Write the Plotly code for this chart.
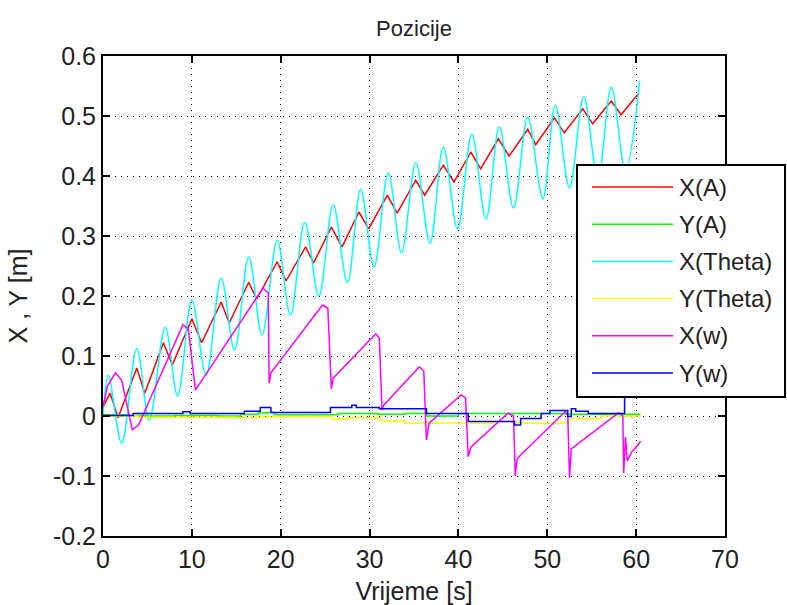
import plotly.graph_objects as go

# ---------------- data ----------------
series_names = ["X(A)", "Y(A)", "X(Theta)", "Y(Theta)", "X(w)", "Y(w)"]
series_colors = ["#ff0000", "#00ff00", "#00ffff", "#ffff00", "#ff00ff", "#0000ff"]

t_xa = [0, 0.8, 1.7, 3.8, 4.7, 6.8, 7.8, 10.0, 11.1, 13.3, 14.2, 16.4, 17.3, 19.6,
        20.6, 22.8, 23.7, 25.7, 26.9, 28.8, 29.9, 32.0, 33.1, 35.2, 36.2, 38.3,
        39.5, 41.4, 42.5, 44.5, 45.7, 47.8, 48.7, 50.8, 51.9, 54.0, 55.1, 57.2,
        58.3, 60.3]
x_a = [0.015, 0.038, -0.003, 0.08, 0.038, 0.122, 0.085, 0.162, 0.122, 0.19, 0.155,
       0.223, 0.195, 0.257, 0.225, 0.282, 0.255, 0.315, 0.282, 0.34, 0.312, 0.368,
       0.338, 0.393, 0.368, 0.418, 0.39, 0.44, 0.412, 0.462, 0.433, 0.478, 0.452,
       0.497, 0.472, 0.512, 0.487, 0.525, 0.502, 0.538]

# step series: each value holds until the next time
t_ya = [0, 3, 5, 8, 10, 13, 15.5, 17.5, 18.5, 19.3, 26.5, 31, 34, 36.4, 40, 46, 52, 60.5]
y_a = [0.002, 0.001, 0.0, 0.001, 0.001, 0.0, 0.003, 0.005, 0.006, 0.002, 0.004,
       0.003, 0.004, 0.0, 0.004, 0.004, 0.003, 0.003]

t_xth = [0, 0.6, 2.1, 3.8, 5.2, 7.0, 8.4, 10.0, 11.6, 13.3, 14.8, 16.4, 17.9, 19.6,
         21.1, 22.7, 24.3, 25.9, 27.5, 29.0, 30.5, 32.1, 33.6, 35.2, 36.8, 38.3,
         39.9, 41.5, 43.1, 44.6, 46.2, 47.8, 49.5, 50.9, 52.5, 54.1, 55.7, 57.2,
         58.8, 60.4]
x_theta = [0.0, 0.068, -0.045, 0.113, -0.007, 0.148, 0.033, 0.193, 0.068, 0.23, 0.11,
           0.265, 0.135, 0.293, 0.168, 0.323, 0.2, 0.352, 0.222, 0.378, 0.248, 0.405,
           0.272, 0.422, 0.288, 0.448, 0.312, 0.47, 0.328, 0.482, 0.347, 0.498, 0.362,
           0.518, 0.38, 0.532, 0.395, 0.548, 0.41, 0.558]

t_yth = [0, 4, 10, 15, 17.2, 19.3, 25.8, 27.5, 31.2, 34.0, 44.4, 46.5, 51.7,
         52.4, 56.0, 60.5]
y_theta = [0.0, -0.002, -0.002, -0.003, -0.002, -0.001, -0.005, -0.003,
           -0.008, -0.012, -0.0095, -0.012, -0.011, -0.004, 0.0, 0.0]

t_xw = [0, 0.5, 1.4, 2.1, 3.3, 4.0, 9.0, 9.6, 10.4, 18.0, 18.6, 18.7, 18.9, 24.7,
        25.3, 25.7, 25.9, 30.7, 31.1, 31.4, 31.6, 35.6, 36.1, 36.4, 36.7, 40.3, 40.8,
        41.1, 41.4, 45.6, 46.2, 46.4, 46.6, 47.0, 52.0, 52.3, 52.5, 52.7, 58.0, 58.5,
        58.6, 58.8, 59.0, 59.5, 60.0, 60.5]
x_w = [0.015, 0.05, 0.072, 0.06, -0.023, -0.015, 0.152, 0.145, 0.043, 0.213, 0.205,
       0.055, 0.072, 0.185, 0.18, 0.045, 0.063, 0.137, 0.13, 0.01, 0.018, 0.082, 0.075,
       -0.04, -0.012, 0.035, 0.03, -0.068, -0.052, 0.005, 0.0, -0.1, -0.072, -0.065,
       0.007, 0.003, -0.103, -0.055, 0.005, 0.0, -0.095, -0.035, -0.075, -0.06, -0.052,
       -0.042]

t_yw = [0, 3.4, 9.0, 9.8, 15.9, 17.7, 18.9, 25.6, 28.0, 28.5, 31.1, 36.4, 41.1,
        46.3, 47.0, 49.3, 50.3, 52.3, 52.7, 53.2, 54.6, 58.7, 60.5]
y_w = [0.001, 0.004, 0.007, 0.004, 0.008, 0.014, 0.006, 0.014, 0.018, 0.014, 0.012,
       0.004, -0.009, -0.015, -0.004, 0.004, 0.009, -0.001, 0.012, 0.008, 0.004, 0.045,
       0.05]

x_ticks = [0, 10, 20, 30, 40, 50, 60, 70]
y_ticks = [-0.2, -0.1, 0, 0.1, 0.2, 0.3, 0.4, 0.5, 0.6]
y_ticklabels = ["-0.2", "-0.1", "0", "0.1", "0.2", "0.3", "0.4", "0.5", "0.6"]

# ---------------- figure ----------------
FONT = "Liberation Sans, Arial, sans-serif"
W, H = 787, 605
L, R, T, B = 103, 62, 56, 69
PW, PH = W - L - R, H - T - B

fig = go.Figure()
all_series = [(t_xa, x_a, "linear"), (t_ya, y_a, "hv"), (t_xth, x_theta, "spline"),
              (t_yth, y_theta, "hv"), (t_xw, x_w, "linear"), (t_yw, y_w, "hv")]
for (tx, vy, shp), name, col in zip(all_series, series_names, series_colors):
    fig.add_trace(go.Scatter(x=tx, y=vy, mode="lines", name=name,
                             line=dict(color=col, width=1.5, shape=shp),
                             showlegend=False))

axis_common = dict(showgrid=True, gridcolor="black", griddash="1px,5px", gridwidth=1,
                   showline=True, linecolor="black", linewidth=2, mirror="ticks",
                   ticks="inside", ticklen=7, tickwidth=1.5, tickcolor="black",
                   zeroline=False, tickfont=dict(size=25, color="#222", family=FONT))
fig.update_xaxes(range=[0, 70], tickvals=x_ticks, **axis_common,
                 title=dict(text="Vrijeme [s]", font=dict(size=25, color="#222", family=FONT),
                            standoff=10))
fig.update_yaxes(range=[-0.2, 0.6], tickvals=y_ticks, ticktext=y_ticklabels, **axis_common,
                 title=dict(text="X , Y [m]", font=dict(size=25, color="#222", family=FONT),
                            standoff=18))

# ---------------- custom legend (MATLAB-like) ----------------
def px_x(p):
    return (p - L) / PW

def px_y(p):
    return (H - B - p) / PH

shapes = [dict(type="rect", xref="paper", yref="paper", layer="above",
               x0=px_x(577), x1=px_x(785), y0=px_y(397), y1=px_y(165),
               line=dict(color="black", width=2), fillcolor="white")]
annotations = []
row0, row_step = 187, 37.2
for i, (name, col) in enumerate(zip(series_names, series_colors)):
    py = row0 + i * row_step
    shapes.append(dict(type="line", xref="paper", yref="paper", layer="above",
                       x0=px_x(592), x1=px_x(673), y0=px_y(py), y1=px_y(py),
                       line=dict(color=col, width=1.5)))
    annotations.append(dict(xref="paper", yref="paper", x=px_x(677), y=px_y(py),
                            xanchor="left", yanchor="middle", showarrow=False,
                            text=name, font=dict(size=24, color="#222", family=FONT)))

fig.update_layout(
    width=W, height=H,
    margin=dict(l=L, r=R, t=T, b=B, autoexpand=False),
    paper_bgcolor="white", plot_bgcolor="white",
    font=dict(family=FONT, color="#222"),
    title=dict(text="Pozicije", x=0.5, xref="paper", xanchor="center",
               y=(H - 28) / H, yref="container", yanchor="middle",
               font=dict(size=22, color="#222", family=FONT)),
    shapes=shapes, annotations=annotations, showlegend=False,
)

fig.write_html("out.html",
               config={"displayModeBar": False},
               post_script="document.body.style.margin='0px';"
                           "document.body.style.overflow='hidden';")
